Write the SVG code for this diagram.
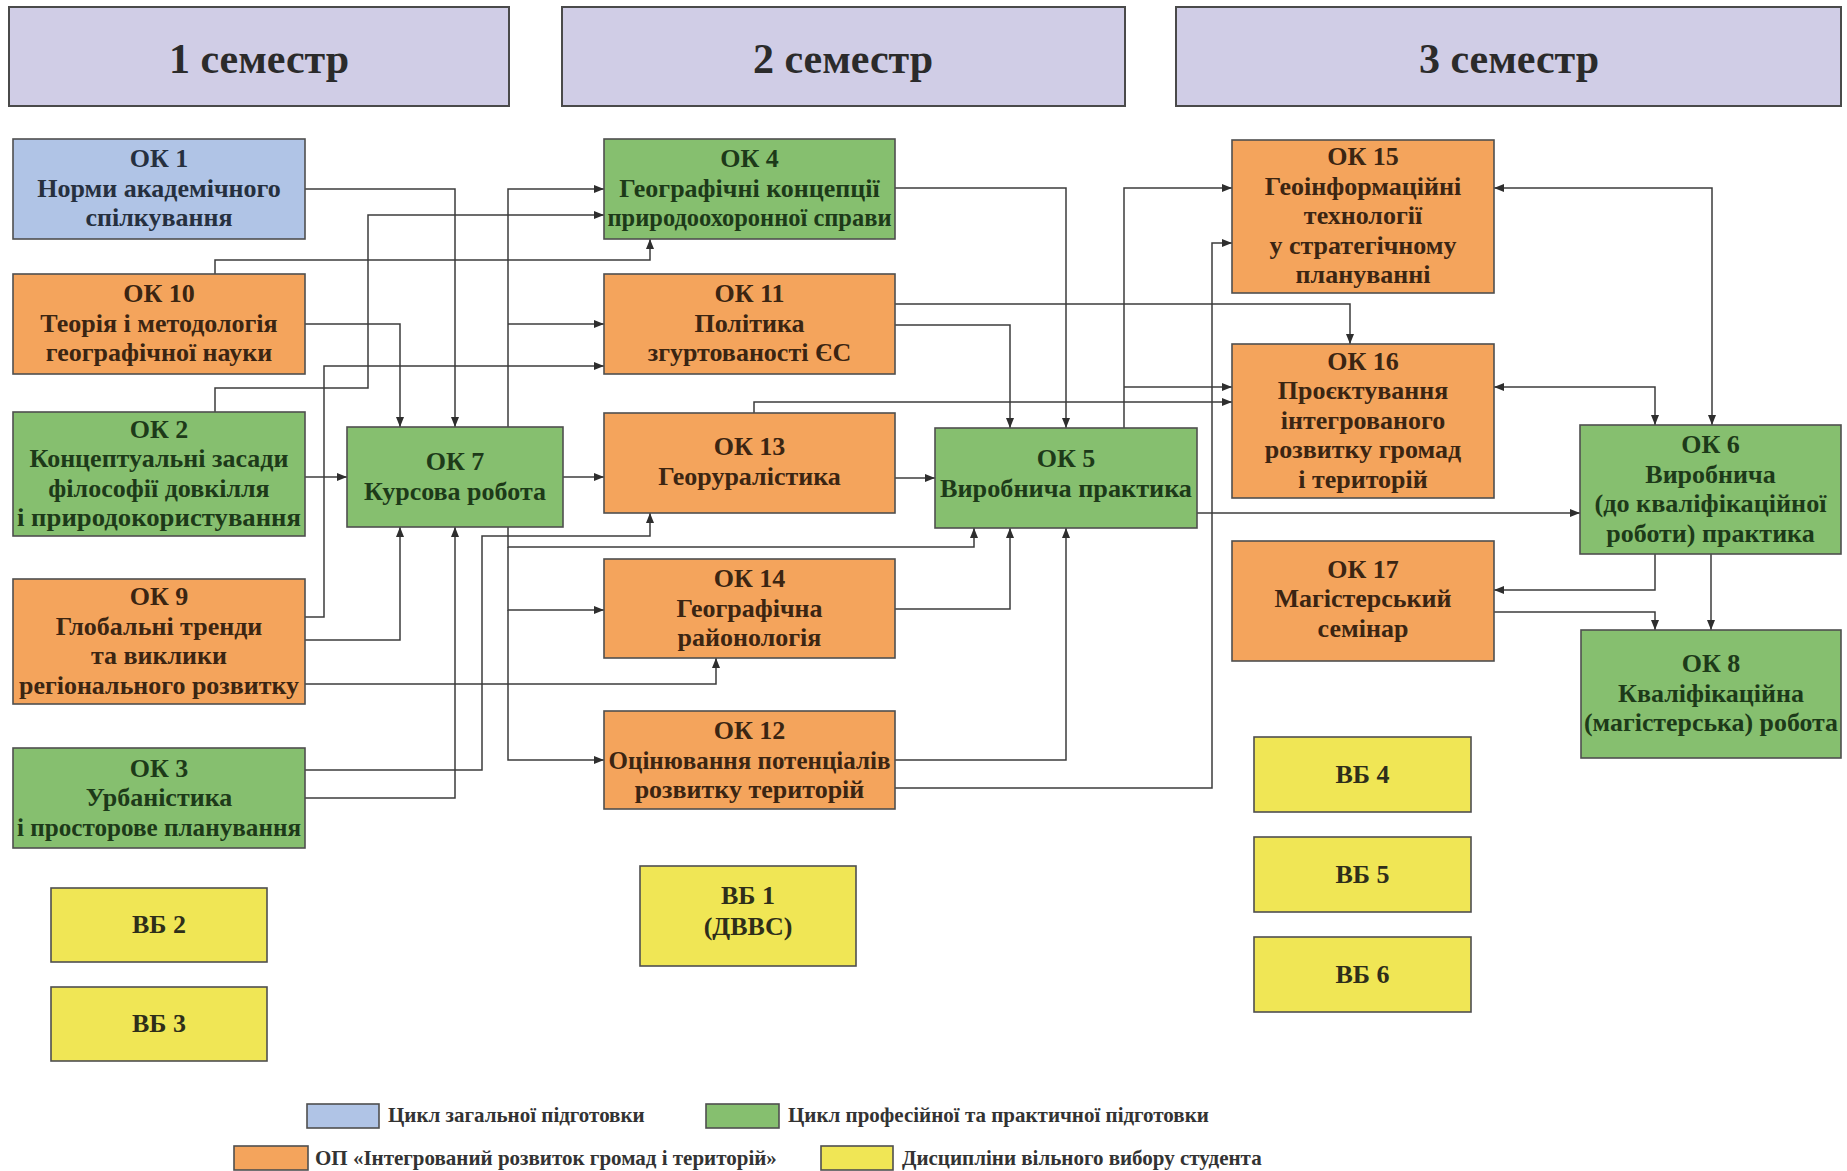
<svg xmlns="http://www.w3.org/2000/svg" width="1847" height="1171" viewBox="0 0 1847 1171">
<style>
  .hdr{fill:#d0cde6;stroke:#4a4a4a;stroke-width:2}
  .box{stroke:#4f4f4f;stroke-width:1.6}
  .blue{fill:#b0c4e6}
  .green{fill:#86bf6f}
  .orange{fill:#f4a45c}
  .yellow{fill:#f0e655}
  text{font-family:"Liberation Serif","Times New Roman",serif;font-weight:bold;text-anchor:middle}
  .ht{font-size:42px;fill:#2b2b2b}
  .t{font-size:26px}
  .tg{fill:#1d3a19}
  .to{fill:#3b2512}
  .tb{fill:#26303f}
  .ty{fill:#2e2e1a}
  .lg{font-size:21px;fill:#333;text-anchor:start}
  .c{fill:none;stroke:#3c3c3c;stroke-width:1.5}
</style>
<defs>
  <marker id="ah" viewBox="0 0 10 8" refX="10" refY="4" markerWidth="10" markerHeight="8" orient="auto-start-reverse" markerUnits="userSpaceOnUse">
    <path d="M0,0 L10,4 L0,8 z" fill="#2e2e2e"/>
  </marker>
</defs>
<rect width="1847" height="1171" fill="#ffffff"/>

<g id="headers">
  <g id="sem1"><rect class="hdr" x="9" y="7" width="500" height="99"/><text class="ht" x="259" y="73">1 семестр</text></g>
  <g id="sem2"><rect class="hdr" x="562" y="7" width="563" height="99"/><text class="ht" x="843" y="73">2 семестр</text></g>
  <g id="sem3"><rect class="hdr" x="1176" y="7" width="665" height="99"/><text class="ht" x="1509" y="73">3 семестр</text></g>
</g>

<g id="connectors">
  <path class="c" marker-end="url(#ah)" d="M305,189 H455 V427"/>
  <path class="c" marker-end="url(#ah)" d="M305,324 H400 V427"/>
  <path class="c" marker-end="url(#ah)" d="M215,274 V260 H650 V239"/>
  <path class="c" marker-end="url(#ah)" d="M215,412 V388 H368 V215 H604"/>
  <path class="c" marker-end="url(#ah)" d="M305,617 H324 V366 H604"/>
  <path class="c" marker-end="url(#ah)" d="M305,477 H347"/>
  <path class="c" marker-end="url(#ah)" d="M305,640 H400 V527"/>
  <path class="c" marker-end="url(#ah)" d="M305,684 H716 V658"/>
  <path class="c" marker-end="url(#ah)" d="M305,798 H455 V527"/>
  <path class="c" marker-end="url(#ah)" d="M305,770 H482 V536 H650 V513"/>
  <path class="c" marker-end="url(#ah)" d="M508,427 V189 H604"/>
  <path class="c" marker-end="url(#ah)" d="M508,324 H604"/>
  <path class="c" marker-end="url(#ah)" d="M508,527 V547 H974 V528"/>
  <path class="c" marker-end="url(#ah)" d="M508,547 V610 H604"/>
  <path class="c" marker-end="url(#ah)" d="M508,610 V760 H604"/>
  <path class="c" marker-end="url(#ah)" d="M563,477 H604"/>
  <path class="c" marker-end="url(#ah)" d="M895,478 H935"/>
  <path class="c" marker-end="url(#ah)" d="M895,609 H1010 V528"/>
  <path class="c" marker-end="url(#ah)" d="M895,760 H1066 V528"/>
  <path class="c" marker-end="url(#ah)" d="M895,788 H1212 V243 H1232"/>
  <path class="c" marker-end="url(#ah)" d="M754,413 V402 H1232"/>
  <path class="c" marker-end="url(#ah)" d="M895,325 H1010 V428"/>
  <path class="c" marker-end="url(#ah)" d="M895,304 H1350 V344"/>
  <path class="c" marker-end="url(#ah)" d="M895,188 H1066 V428"/>
  <path class="c" marker-end="url(#ah)" d="M1124,428 V188 H1232"/>
  <path class="c" marker-end="url(#ah)" d="M1124,387 H1232"/>
  <path class="c" marker-start="url(#ah)" marker-end="url(#ah)" d="M1494,188 H1712 V425"/>
  <path class="c" marker-start="url(#ah)" marker-end="url(#ah)" d="M1494,387 H1655 V425"/>
  <path class="c" marker-end="url(#ah)" d="M1197,513 H1580"/>
  <path class="c" marker-end="url(#ah)" d="M1655,554 V590 H1494"/>
  <path class="c" marker-end="url(#ah)" d="M1494,612 H1655 V630"/>
  <path class="c" marker-end="url(#ah)" d="M1711,554 V630"/>
</g>

<g id="ok1"><rect class="box blue" x="13" y="139" width="292" height="100"/>
  <text class="t tb" x="159" y="167">ОК 1</text><text class="t tb" x="159" y="197">Норми академічного</text><text class="t tb" x="159" y="226">спілкування</text></g>
<g id="ok10"><rect class="box orange" x="13" y="274" width="292" height="100"/>
  <text class="t to" x="159" y="302">ОК 10</text><text class="t to" x="159" y="332">Теорія і методологія</text><text class="t to" x="159" y="361">географічної науки</text></g>
<g id="ok2"><rect class="box green" x="13" y="412" width="292" height="124"/>
  <text class="t tg" x="159" y="438">ОК 2</text><text class="t tg" x="159" y="467">Концептуальні засади</text><text class="t tg" x="159" y="497">філософії довкілля</text><text class="t tg" x="159" y="526" textLength="284" lengthAdjust="spacingAndGlyphs">і природокористування</text></g>
<g id="ok9"><rect class="box orange" x="13" y="579" width="292" height="125"/>
  <text class="t to" x="159" y="605">ОК 9</text><text class="t to" x="159" y="635">Глобальні тренди</text><text class="t to" x="159" y="664">та виклики</text><text class="t to" x="159" y="694" textLength="280" lengthAdjust="spacingAndGlyphs">регіонального розвитку</text></g>
<g id="ok3"><rect class="box green" x="13" y="748" width="292" height="100"/>
  <text class="t tg" x="159" y="777">ОК 3</text><text class="t tg" x="159" y="806">Урбаністика</text><text class="t tg" x="159" y="836" textLength="284" lengthAdjust="spacingAndGlyphs">і просторове планування</text></g>
<g id="vb2"><rect class="box yellow" x="51" y="888" width="216" height="74"/><text class="t ty" x="159" y="933">ВБ 2</text></g>
<g id="vb3"><rect class="box yellow" x="51" y="987" width="216" height="74"/><text class="t ty" x="159" y="1032">ВБ 3</text></g>

<g id="ok7"><rect class="box green" x="347" y="427" width="216" height="100"/>
  <text class="t tg" x="455" y="470">ОК 7</text><text class="t tg" x="455" y="500">Курсова робота</text></g>

<g id="ok4"><rect class="box green" x="604" y="139" width="291" height="100"/>
  <text class="t tg" x="749.5" y="167">ОК 4</text><text class="t tg" x="749.5" y="197">Географічні концепції</text><text class="t tg" x="749.5" y="226" textLength="284" lengthAdjust="spacingAndGlyphs">природоохоронної справи</text></g>
<g id="ok11"><rect class="box orange" x="604" y="274" width="291" height="100"/>
  <text class="t to" x="749.5" y="302">ОК 11</text><text class="t to" x="749.5" y="332">Політика</text><text class="t to" x="749.5" y="361">згуртованості ЄС</text></g>
<g id="ok13"><rect class="box orange" x="604" y="413" width="291" height="100"/>
  <text class="t to" x="749.5" y="455">ОК 13</text><text class="t to" x="749.5" y="485">Георуралістика</text></g>
<g id="ok14"><rect class="box orange" x="604" y="559" width="291" height="99"/>
  <text class="t to" x="749.5" y="587">ОК 14</text><text class="t to" x="749.5" y="617">Географічна</text><text class="t to" x="749.5" y="646">районологія</text></g>
<g id="ok12"><rect class="box orange" x="604" y="711" width="291" height="98"/>
  <text class="t to" x="749.5" y="739">ОК 12</text><text class="t to" x="749.5" y="769" textLength="282" lengthAdjust="spacingAndGlyphs">Оцінювання потенціалів</text><text class="t to" x="749.5" y="798">розвитку територій</text></g>
<g id="vb1"><rect class="box yellow" x="640" y="866" width="216" height="100"/>
  <text class="t ty" x="748" y="904">ВБ 1</text><text class="t ty" x="748" y="935">(ДВВС)</text></g>

<g id="ok5"><rect class="box green" x="935" y="428" width="262" height="100"/>
  <text class="t tg" x="1066" y="467">ОК 5</text><text class="t tg" x="1066" y="497" textLength="252" lengthAdjust="spacingAndGlyphs">Виробнича практика</text></g>

<g id="ok15"><rect class="box orange" x="1232" y="140" width="262" height="153"/>
  <text class="t to" x="1363" y="165">ОК 15</text><text class="t to" x="1363" y="195">Геоінформаційні</text><text class="t to" x="1363" y="224">технології</text><text class="t to" x="1363" y="254">у стратегічному</text><text class="t to" x="1363" y="283">плануванні</text></g>
<g id="ok16"><rect class="box orange" x="1232" y="344" width="262" height="154"/>
  <text class="t to" x="1363" y="370">ОК 16</text><text class="t to" x="1363" y="399">Проєктування</text><text class="t to" x="1363" y="429">інтегрованого</text><text class="t to" x="1363" y="458">розвитку громад</text><text class="t to" x="1363" y="488">і територій</text></g>
<g id="ok17"><rect class="box orange" x="1232" y="541" width="262" height="120"/>
  <text class="t to" x="1363" y="578">ОК 17</text><text class="t to" x="1363" y="607">Магістерський</text><text class="t to" x="1363" y="637">семінар</text></g>
<g id="vb4"><rect class="box yellow" x="1254" y="737" width="217" height="75"/><text class="t ty" x="1362.5" y="783">ВБ 4</text></g>
<g id="vb5"><rect class="box yellow" x="1254" y="837" width="217" height="75"/><text class="t ty" x="1362.5" y="883">ВБ 5</text></g>
<g id="vb6"><rect class="box yellow" x="1254" y="937" width="217" height="75"/><text class="t ty" x="1362.5" y="983">ВБ 6</text></g>

<g id="ok6"><rect class="box green" x="1580" y="425" width="261" height="129"/>
  <text class="t tg" x="1710.5" y="453">ОК 6</text><text class="t tg" x="1710.5" y="483">Виробнича</text><text class="t tg" x="1710.5" y="512" textLength="232" lengthAdjust="spacingAndGlyphs">(до кваліфікаційної</text><text class="t tg" x="1710.5" y="542">роботи) практика</text></g>
<g id="ok8"><rect class="box green" x="1581" y="630" width="260" height="128"/>
  <text class="t tg" x="1711" y="672">ОК 8</text><text class="t tg" x="1711" y="702">Кваліфікаційна</text><text class="t tg" x="1711" y="731" textLength="254" lengthAdjust="spacingAndGlyphs">(магістерська) робота</text></g>

<g id="legend">
  <rect class="box blue" x="307" y="1104" width="72" height="24"/>
  <text class="lg" x="388" y="1122">Цикл загальної підготовки</text>
  <rect class="box green" x="706" y="1104" width="73" height="24"/>
  <text class="lg" x="788" y="1122">Цикл професійної та практичної підготовки</text>
  <rect class="box orange" x="234" y="1146" width="74" height="24"/>
  <text class="lg" x="315" y="1165">ОП «Інтегрований розвиток громад і територій»</text>
  <rect class="box yellow" x="821" y="1146" width="72" height="24"/>
  <text class="lg" x="902" y="1165">Дисципліни вільного вибору студента</text>
</g>
</svg>
